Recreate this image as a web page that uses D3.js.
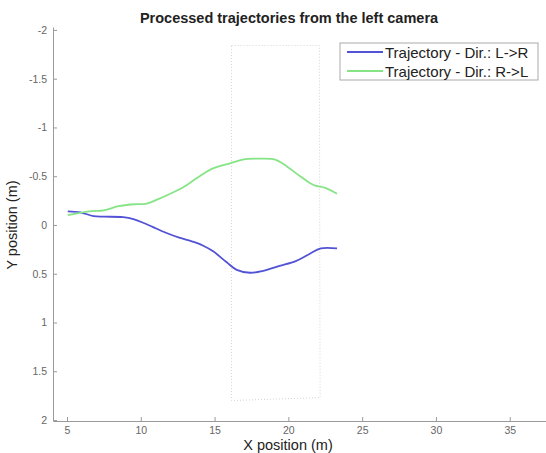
<!DOCTYPE html>
<html>
<head>
<meta charset="utf-8">
<script src="https://cdn.jsdelivr.net/npm/d3@7"></script>
<style>
body { margin: 0; background: #fff; }
svg { display: block; font-family: "Liberation Sans", Arial, sans-serif; }
</style>
</head>
<body>
<div id="chart"></div>
<script>
// trajectory L->R (blue)
var blueX = [5.05, 5.9, 6.8, 7.5, 8.8, 9.5, 10.2, 10.8, 11.7, 12.6, 13.5, 14.2, 14.9, 15.8, 16.5, 17.4, 18.3, 19.4, 20.5, 21.4, 22.2, 23.3];
var blueY = [-0.14, -0.13, -0.09, -0.085, -0.08, -0.06, -0.02, 0.02, 0.08, 0.13, 0.17, 0.21, 0.27, 0.38, 0.46, 0.49, 0.47, 0.42, 0.37, 0.30, 0.24, 0.24];
// trajectory R->L (green)
var greenX = [5.05, 6.5, 7.5, 8.4, 9.3, 10.4, 11.1, 12.0, 12.9, 13.6, 14.3, 14.9, 16.0, 16.9, 18.0, 19.1, 19.9, 20.8, 21.7, 22.5, 23.3];
var greenY = [-0.10, -0.14, -0.15, -0.19, -0.21, -0.22, -0.26, -0.32, -0.39, -0.46, -0.53, -0.58, -0.63, -0.67, -0.68, -0.67, -0.60, -0.50, -0.41, -0.38, -0.32];
// dotted region outline
var roiX = [16.15, 22.1, 22.15, 16.15, 16.15];
var roiY = [-1.84, -1.84, 1.77, 1.80, -1.84];

var xTicks = [5, 10, 15, 20, 25, 30, 35];
var yTicks = [-2, -1.5, -1, -0.5, 0, 0.5, 1, 1.5, 2];
var seriesNames = ["Trajectory - Dir.: L->R", "Trajectory - Dir.: R->L"];
var seriesColors = ["#5252d6", "#86e486"];

var w = 546, h = 453;

var svg = d3.select("#chart").append("svg")
    .attr("width", w)
    .attr("height", h);

var x = d3.scaleLinear().domain([4.05, 38]).range([53, 554]);
var y = d3.scaleLinear().domain([-2.03, 2.01]).range([27, 421]);

// axes (MATLAB style, ticks inside)
var xAxis = d3.axisBottom(x).tickValues(xTicks).tickSizeInner(-4).tickSizeOuter(0).tickPadding(6);
var yAxis = d3.axisLeft(y).tickValues(yTicks).tickSizeInner(-4).tickSizeOuter(0).tickPadding(6)
    .tickFormat(function(d) { return String(d); });

var gx = svg.append("g")
    .attr("transform", "translate(0," + y(2.01) + ")")
    .call(xAxis);
var gy = svg.append("g")
    .attr("transform", "translate(" + x(4.05) + ",0)")
    .call(yAxis);

[gx, gy].forEach(function(g) {
    g.selectAll("path, line").attr("stroke", "#9a9a9a");
    g.selectAll("text").attr("fill", "#666").style("font-size", "10.5px");
});

// dotted outline
var line = d3.line()
    .x(function(d) { return x(d[0]); })
    .y(function(d) { return y(d[1]); })
    .curve(d3.curveCatmullRom);

svg.append("path")
    .datum(d3.zip(roiX, roiY))
    .attr("d", line.curve(d3.curveLinear))
    .attr("fill", "none")
    .attr("stroke", "#d4d4d4")
    .attr("stroke-width", 1)
    .attr("stroke-dasharray", "1,2");

line.curve(d3.curveCatmullRom);

// trajectories
var series = [d3.zip(blueX, blueY), d3.zip(greenX, greenY)];
svg.selectAll("path.traj")
    .data(series)
    .enter()
    .append("path")
    .attr("class", "traj")
    .attr("d", line)
    .attr("fill", "none")
    .attr("stroke", function(d, i) { return seriesColors[i]; })
    .attr("stroke-width", 1.8)
    .attr("stroke-linejoin", "round");

// title and labels
svg.append("text")
    .attr("x", 289).attr("y", 23)
    .attr("text-anchor", "middle")
    .style("font-size", "14.5px").style("font-weight", "bold")
    .attr("fill", "#222")
    .text("Processed trajectories from the left camera");

svg.append("text")
    .attr("x", 288).attr("y", 450)
    .attr("text-anchor", "middle")
    .style("font-size", "14.5px")
    .attr("fill", "#222")
    .text("X position (m)");

svg.append("text")
    .attr("transform", "translate(17,225) rotate(-90)")
    .attr("text-anchor", "middle")
    .style("font-size", "14.5px")
    .attr("fill", "#222")
    .text("Y position (m)");

// legend
var legend = svg.append("g");
legend.append("rect")
    .attr("x", 340).attr("y", 43)
    .attr("width", 198).attr("height", 37)
    .attr("fill", "#fff")
    .attr("stroke", "#aaa");

var items = legend.selectAll("g.item")
    .data(seriesNames)
    .enter()
    .append("g")
    .attr("class", "item")
    .attr("transform", function(d, i) { return "translate(0," + (52 + i * 19) + ")"; });

items.append("line")
    .attr("x1", 347).attr("x2", 383)
    .attr("y1", 0).attr("y2", 0)
    .attr("stroke", function(d, i) { return seriesColors[i]; })
    .attr("stroke-width", 1.8);

items.append("text")
    .attr("x", 385).attr("y", 5.5)
    .style("font-size", "15px")
    .attr("fill", "#222")
    .text(function(d) { return d; });
</script>
</body>
</html>
